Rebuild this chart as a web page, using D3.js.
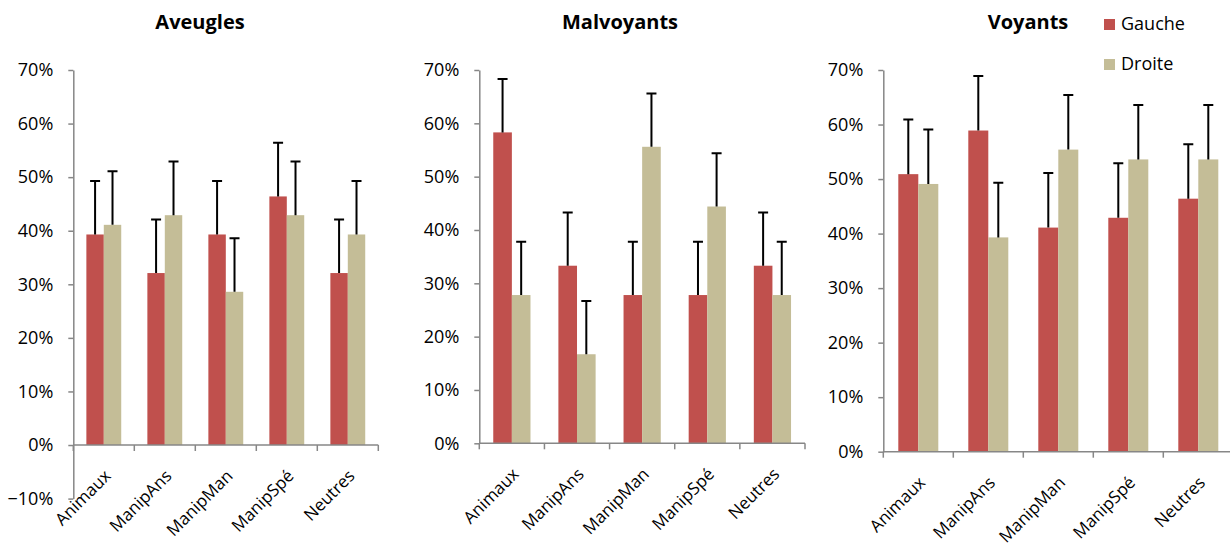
<!DOCTYPE html>
<html>
<head>
<meta charset="utf-8">
<script src="https://cdn.jsdelivr.net/npm/d3@7"></script>
<style>
  html, body { margin: 0; padding: 0; background: #fff; }
  svg { display: block; }
  text { font-family: "Open Sans", "DejaVu Sans", sans-serif; fill: #000; }
</style>
</head>
<body>
<svg id="chart" width="1230" height="544"></svg>
<script>
// ---- data ----
const categories = ["Animaux", "ManipAns", "ManipMan", "ManipSpé", "Neutres"];
const seriesNames = ["Gauche", "Droite"];
const panelTitles = ["Aveugles", "Malvoyants", "Voyants"];

const aveuglesGauche = [0.393, 0.321, 0.393, 0.464, 0.321];
const aveuglesDroite = [0.411, 0.429, 0.286, 0.429, 0.393];
const aveuglesErr = [0.10, 0.10, 0.10, 0.10, 0.10];

const malvoyantsGauche = [0.583, 0.333, 0.278, 0.278, 0.333];
const malvoyantsDroite = [0.278, 0.167, 0.556, 0.444, 0.278];
const malvoyantsErr = [0.10, 0.10, 0.10, 0.10, 0.10];

const voyantsGauche = [0.509, 0.589, 0.411, 0.429, 0.464];
const voyantsDroite = [0.491, 0.393, 0.554, 0.536, 0.536];
const voyantsErr = [0.10, 0.10, 0.10, 0.10, 0.10];

const yTicksAveugles = [-0.1, 0, 0.1, 0.2, 0.3, 0.4, 0.5, 0.6, 0.7];
const yTicksOthers = [0, 0.1, 0.2, 0.3, 0.4, 0.5, 0.6, 0.7];

// ---- layout (positions/styles) ----
const colors = { Gauche: "#C0504D", Droite: "#C4BD97" };
const axisColor = "#878787";

const panels = [
  { title: panelTitles[0], g: aveuglesGauche, d: aveuglesDroite, e: aveuglesErr,
    ticks: yTicksAveugles, yMin: -0.1, x0: 73.3, x1: 378.3, yTop: 70, yBottom: 498.6, titleX: 200 },
  { title: panelTitles[1], g: malvoyantsGauche, d: malvoyantsDroite, e: malvoyantsErr,
    ticks: yTicksOthers, yMin: 0, x0: 479.3, x1: 805, yTop: 70, yBottom: 443.3, titleX: 620 },
  { title: panelTitles[2], g: voyantsGauche, d: voyantsDroite, e: voyantsErr,
    ticks: yTicksOthers, yMin: 0, x0: 883.3, x1: 1233.3, yTop: 70, yBottom: 451.7, titleX: 1028 }
];

const svg = d3.select("#chart");
const fmt = d3.format(".0%");

panels.forEach(p => {
  const g = svg.append("g");
  const y = d3.scaleLinear().domain([p.yMin, 0.7]).range([p.yBottom, p.yTop]);
  const x = d3.scaleBand().domain(categories).range([p.x0, p.x1]).padding(0);
  const xs = d3.scaleBand().domain(seriesNames).range([0, x.bandwidth()])
    .paddingInner(0).paddingOuter(0.75);

  // title
  g.append("text")
    .attr("x", p.titleX).attr("y", 28.5)
    .attr("text-anchor", "middle")
    .style("font-weight", "bold").style("font-size", "20px")
    .text(p.title);

  // y axis
  const yAxis = d3.axisLeft(y).tickValues(p.ticks).tickFormat(fmt)
    .tickSize(5).tickSizeOuter(0).tickPadding(15);
  const ya = g.append("g").attr("transform", `translate(${p.x0},0)`).call(yAxis);
  ya.select(".domain").attr("stroke", axisColor).attr("stroke-width", 1.5);
  ya.selectAll(".tick line").attr("stroke", axisColor).attr("stroke-width", 1.5);
  ya.selectAll(".tick text").style("font-size", "18px").style("font-family", "'Open Sans', sans-serif").attr("fill", "#000");

  // bars
  const rows = categories.map((c, i) => ({ c, vals: [
    { s: "Gauche", v: p.g[i], e: p.e[i] },
    { s: "Droite", v: p.d[i], e: p.e[i] }
  ]}));

  const groups = g.selectAll(".grp").data(rows).enter().append("g")
    .attr("transform", r => `translate(${x(r.c)},0)`);

  groups.selectAll("rect").data(r => r.vals).enter().append("rect")
    .attr("x", d => xs(d.s))
    .attr("width", xs.bandwidth())
    .attr("y", d => y(d.v))
    .attr("height", d => y(0) - y(d.v))
    .attr("fill", d => colors[d.s]);

  // error bars (upper)
  groups.selectAll(".err").data(r => r.vals).enter().append("path")
    .attr("d", d => {
      const cx = xs(d.s) + xs.bandwidth() / 2;
      const yt = y(d.v + d.e), yb = y(d.v);
      return `M${cx},${yb}V${yt}M${cx - 5},${yt}H${cx + 5}`;
    })
    .attr("stroke", "#000").attr("stroke-width", 2).attr("fill", "none");

  // x axis line at 0
  const y0 = y(0);
  g.append("line").attr("x1", p.x0).attr("x2", p.x1).attr("y1", y0).attr("y2", y0)
    .attr("stroke", axisColor).attr("stroke-width", 1.5);
  const bounds = categories.map(c => x(c)).concat([p.x1]);
  g.selectAll(".xt").data(bounds).enter().append("line")
    .attr("x1", d => d).attr("x2", d => d).attr("y1", y0).attr("y2", y0 + 6)
    .attr("stroke", axisColor).attr("stroke-width", 1.5);

  // x labels
  g.selectAll(".xl").data(categories).enter().append("text")
    .attr("transform", c => `translate(${x(c) + x.bandwidth() / 2 + 8},${y0 + 32}) rotate(-45)`)
    .attr("text-anchor", "end")
    .style("font-size", "17px")
    .text(c => c);
});

// legend
const legend = svg.append("g");
seriesNames.forEach((s, i) => {
  const ly = 19 + i * 40;
  legend.append("rect").attr("x", 1104).attr("y", ly).attr("width", 11).attr("height", 11)
    .attr("fill", colors[s]);
  legend.append("text").attr("x", 1121).attr("y", ly + 11).style("font-size", "18px").text(s);
});
</script>
</body>
</html>
